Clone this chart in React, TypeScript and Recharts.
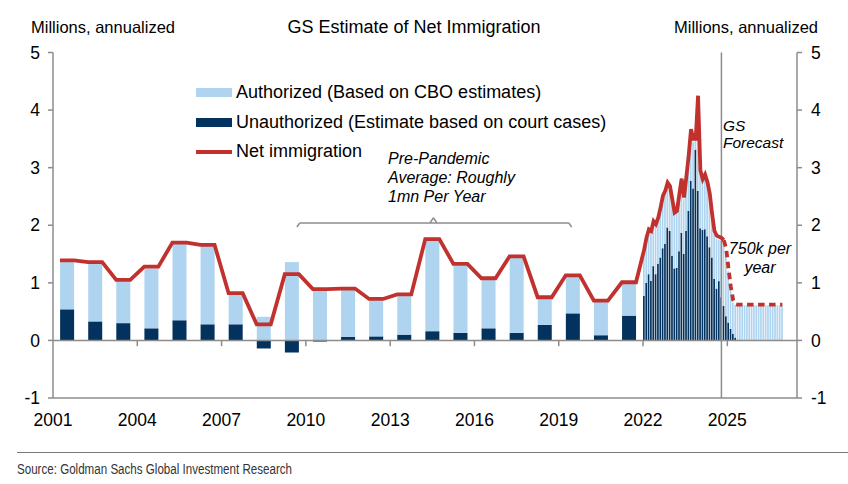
import React from 'react';
import { ComposedChart, Bar, Line, XAxis, YAxis, ReferenceLine, Legend } from 'recharts';

// annual estimates, millions
const years = [2001, 2002, 2003, 2004, 2005, 2006, 2007, 2008, 2009, 2010, 2011, 2012, 2013, 2014, 2015, 2016, 2017, 2018, 2019, 2020, 2021];
const annualUnauthorized = [0.54, 0.33, 0.30, 0.21, 0.35, 0.28, 0.28, -0.14, -0.21, -0.02, 0.06, 0.07, 0.10, 0.16, 0.13, 0.21, 0.13, 0.27, 0.47, 0.09, 0.43];
const annualAuthorized = [0.82, 1.01, 0.73, 1.04, 1.34, 1.37, 0.52, 0.41, 1.36, 0.90, 0.83, 0.63, 0.67, 1.57, 1.17, 0.85, 1.31, 0.46, 0.64, 0.58, 0.56];
const annualNet = [1.39, 1.36, 1.05, 1.28, 1.70, 1.66, 0.82, 0.28, 1.15, 0.89, 0.90, 0.72, 0.80, 1.76, 1.33, 1.08, 1.46, 0.75, 1.13, 0.69, 1.01];

// monthly, Jan 2022 - Dec 2026 (annualized)
const monthlyUnauthorized = [
  0.77, 1.00, 1.15, 1.03, 1.29, 1.15, 1.33, 1.44, 1.60, 1.68, 1.96, 1.90,
  1.47, 1.25, 1.26, 1.55, 1.87, 1.50, 1.90, 2.25, 2.77, 2.64, 3.31, 2.60,
  1.95, 1.92, 1.93, 1.81, 1.62, 1.44, 1.07, 0.90, 1.03, 0.75, 0.60, 0.42,
  0.31, 0.20, 0.11, 0.05, 0, 0, 0, 0, 0, 0, 0, 0,
  0, 0, 0, 0, 0, 0, 0, 0, 0, 0, 0, 0,
];
const monthlyTotal = [
  1.52, 1.74, 1.88, 1.86, 2.02, 1.98, 2.08, 2.26, 2.46, 2.55, 2.68, 2.63,
  2.40, 2.20, 2.23, 2.48, 2.75, 2.46, 2.80, 3.15, 3.58, 3.45, 3.48, 3.50,
  2.90, 2.75, 2.82, 2.70, 2.50, 2.15, 1.85, 1.77, 1.75, 1.73, 1.69, 1.55,
  1.20, 0.88, 0.66, 0.62, 0.61, 0.61, 0.61, 0.61, 0.61, 0.61, 0.61, 0.61,
  0.61, 0.61, 0.61, 0.61, 0.61, 0.61, 0.61, 0.61, 0.61, 0.61, 0.61, 0.61,
];
const monthlyNet = [
  1.58, 1.79, 1.93, 1.90, 2.07, 2.02, 2.13, 2.31, 2.51, 2.60, 2.74, 2.68,
  2.45, 2.22, 2.25, 2.54, 2.81, 2.48, 2.84, 3.21, 3.67, 3.50, 3.50, 4.25,
  2.95, 2.80, 2.88, 2.75, 2.55, 2.20, 1.90, 1.82, 1.80, 1.78, 1.74,
];
// forecast starts at the last actual month (index 34)
const forecastNet = [1.74, 1.60, 1.25, 0.93, 0.70, 0.63, 0.62, 0.62, 0.62, 0.62, 0.62, 0.62, 0.62, 0.62, 0.62, 0.62, 0.62, 0.62, 0.62, 0.62, 0.62, 0.62, 0.62, 0.62, 0.62, 0.62];

const xTicks = [2001, 2004, 2007, 2010, 2013, 2016, 2019, 2022, 2025];
const yTicks = [-1, 0, 1, 2, 3, 4, 5];
const forecastLine = 2024.79;

const LIGHT = '#AFD4F0';
const DARK = '#03325E';
const RED = '#C1312E';
const AXIS = '#8C8C8C';
const FONT = '"Liberation Sans", Arial, sans-serif';
const ANNUAL_BAR_W = 14;

// table: three line points per year (bar edges + centre), one row per month
const rows: any[] = [];
years.forEach((y, i) => {
  rows.push({ x: y + 0.25, net: annualNet[i] });
  rows.push({ x: y + 0.5, unauthA: annualUnauthorized[i], authA: annualAuthorized[i], net: annualNet[i] });
  rows.push({ x: y + 0.75, net: annualNet[i] });
});
monthlyTotal.forEach((t, m) => {
  const row: any = {
    x: 2022 + (m + 0.5) / 12,
    unauthM: monthlyUnauthorized[m],
    authM: +(t - monthlyUnauthorized[m]).toFixed(2),
  };
  if (m < monthlyNet.length) row.net = monthlyNet[m];
  if (m >= 34) row.netF = forecastNet[m - 34];
  rows.push(row);
});

// the numeric axis squeezes bars to the monthly band, so widen annual ones around their centre
const AnnualBar = (p: any) => {
  if (!p.height || !isFinite(p.x)) return null;
  const y = Math.min(p.y, p.y + p.height);
  const h = Math.abs(p.height);
  const cx = p.x + p.width / 2;
  return <rect x={cx - ANNUAL_BAR_W / 2} y={y} width={ANNUAL_BAR_W} height={h} fill={p.fill} />;
};

const legendItems = [
  { label: 'Authorized (Based on CBO estimates)', kind: 'bar', color: LIGHT },
  { label: 'Unauthorized (Estimate based on court cases)', kind: 'bar', color: DARK },
  { label: 'Net immigration', kind: 'line', color: RED },
];

const renderLegend = () => (
  <div style={{ fontFamily: FONT, fontSize: 18, color: '#000' }}>
    {legendItems.map((it) => (
      <div key={it.label} style={{ display: 'flex', alignItems: 'center', height: 29.5, whiteSpace: 'nowrap' }}>
        <div style={{ width: 36, height: it.kind === 'bar' ? 9 : 3.5, background: it.color, marginRight: 4 }} />
        <span>{it.label}</span>
      </div>
    ))}
  </div>
);

const tickStyle = { fill: '#000', fontSize: 17.5, fontFamily: FONT };

export default function App() {
  return (
    <div style={{ position: 'absolute', left: 0, top: 0, width: 848, height: 484, background: '#fff' }}>
      <ComposedChart
        width={848}
        height={484}
        data={rows}
        margin={{ top: 52.5, right: 6, bottom: 56, left: 13 }}
        stackOffset="sign"
        barGap={0}
      >
        <XAxis
          xAxisId="a"
          type="number"
          dataKey="x"
          domain={[2001, 2027.48]}
          allowDataOverflow
          ticks={xTicks}
          interval={0}
          tickLine={false}
          tickMargin={10}
          axisLine={{ stroke: AXIS, strokeWidth: 1.5 }}
          tick={tickStyle}
          height={30}
        />
        <XAxis xAxisId="m" type="number" dataKey="x" domain={[2001, 2027.48]} allowDataOverflow hide />
        <YAxis
          yAxisId="l"
          domain={[-1, 5]}
          ticks={yTicks}
          interval={0}
          allowDataOverflow
          width={40}
          tickSize={5}
          tickMargin={8}
          axisLine={{ stroke: AXIS, strokeWidth: 1.5 }}
          tickLine={{ stroke: AXIS, strokeWidth: 1.5 }}
          tick={tickStyle}
        />
        <YAxis
          yAxisId="r"
          orientation="right"
          domain={[-1, 5]}
          ticks={yTicks}
          interval={0}
          allowDataOverflow
          width={45}
          tickSize={5}
          tickMargin={9}
          axisLine={{ stroke: AXIS, strokeWidth: 1.5 }}
          tickLine={{ stroke: AXIS, strokeWidth: 1.5 }}
          tick={tickStyle}
        />
        <Legend
          layout="vertical"
          align="center"
          verticalAlign="middle"
          content={renderLegend}
          wrapperStyle={{ left: 196, top: 78, width: 460 }}
        />
        <ReferenceLine xAxisId="a" yAxisId="l" y={0} stroke={AXIS} strokeWidth={1.5} />
        {xTicks.slice(1).map((t) => (
          <ReferenceLine
            key={t}
            xAxisId="a"
            yAxisId="l"
            segment={[{ x: t, y: 0 }, { x: t, y: -0.1 }]}
            stroke={AXIS}
            strokeWidth={1.5}
          />
        ))}
        <Bar xAxisId="a" yAxisId="l" dataKey="unauthA" stackId="a" fill={DARK} shape={AnnualBar} isAnimationActive={false} />
        <Bar xAxisId="a" yAxisId="l" dataKey="authA" stackId="a" fill={LIGHT} shape={AnnualBar} isAnimationActive={false} />
        <Bar xAxisId="m" yAxisId="l" dataKey="unauthM" stackId="m" fill={DARK} barSize={1.7} isAnimationActive={false} />
        <Bar xAxisId="m" yAxisId="l" dataKey="authM" stackId="m" fill={LIGHT} barSize={1.7} isAnimationActive={false} />
        <ReferenceLine xAxisId="a" yAxisId="l" x={forecastLine} stroke={AXIS} strokeWidth={1.5} />
        {/* bracket over the pre-pandemic years */}
        <ReferenceLine xAxisId="a" yAxisId="l" segment={[{ x: 2009.78, y: 2.04 }, { x: 2019.36, y: 2.04 }]} stroke={AXIS} strokeWidth={1.5} />
        <ReferenceLine xAxisId="a" yAxisId="l" segment={[{ x: 2009.68, y: 1.97 }, { x: 2009.78, y: 2.04 }]} stroke={AXIS} strokeWidth={1.5} />
        <ReferenceLine xAxisId="a" yAxisId="l" segment={[{ x: 2019.36, y: 2.04 }, { x: 2019.46, y: 1.97 }]} stroke={AXIS} strokeWidth={1.5} />
        <ReferenceLine xAxisId="a" yAxisId="l" segment={[{ x: 2014.42, y: 2.04 }, { x: 2014.54, y: 2.13 }]} stroke={AXIS} strokeWidth={1.5} />
        <ReferenceLine xAxisId="a" yAxisId="l" segment={[{ x: 2014.54, y: 2.13 }, { x: 2014.66, y: 2.04 }]} stroke={AXIS} strokeWidth={1.5} />
        <Line xAxisId="a" yAxisId="l" type="linear" dataKey="net" stroke={RED} strokeWidth={3.8} dot={false} activeDot={false} isAnimationActive={false} />
        <Line xAxisId="a" yAxisId="l" type="linear" dataKey="netF" stroke={RED} strokeWidth={3.8} strokeDasharray="6.5 4.5" dot={false} activeDot={false} isAnimationActive={false} />
      </ComposedChart>
      <svg width={848} height={484} style={{ position: 'absolute', left: 0, top: 0, pointerEvents: 'none' }} fontFamily={FONT}>
        <text x={31} y={33} fontSize={16.5} fill="#000">Millions, annualized</text>
        <text x={414} y={33} fontSize={18} fill="#000" textAnchor="middle">GS Estimate of Net Immigration</text>
        <text x={818} y={33} fontSize={16.5} fill="#000" textAnchor="end">Millions, annualized</text>
        <g fontStyle="italic" fontSize={16} fill="#000">
          <text x={388} y={164}>Pre-Pandemic</text>
          <text x={388} y={183}>Average: Roughly</text>
          <text x={388} y={202}>1mn Per Year</text>
          <text x={723} y={131} fontSize={15.5}>GS</text>
          <text x={723} y={147.5} fontSize={15.5}>Forecast</text>
          <text x={760} y={254} textAnchor="middle">750k per</text>
          <text x={760} y={272.5} textAnchor="middle">year</text>
        </g>
        <line x1={17} x2={848} y1={452.5} y2={452.5} stroke="#7a7a7a" strokeWidth={1} />
        <text x={17} y={474} fontSize={14} fill="#333" textLength={275} lengthAdjust="spacingAndGlyphs">
          Source: Goldman Sachs Global Investment Research
        </text>
      </svg>
    </div>
  );
}
